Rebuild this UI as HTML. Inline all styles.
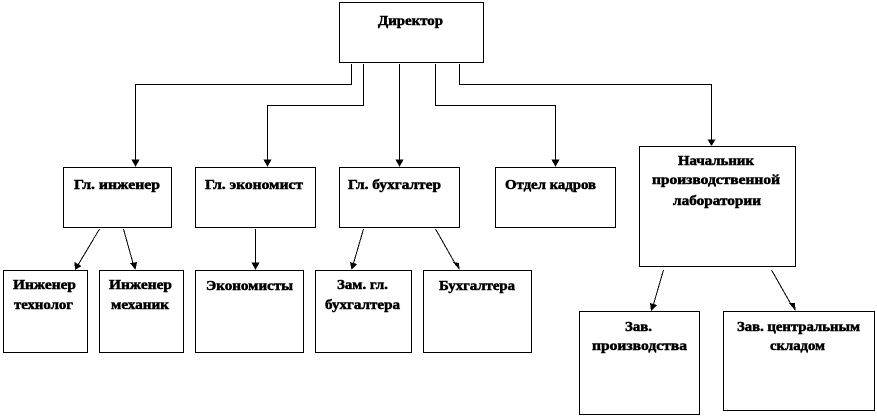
<!DOCTYPE html>
<html lang="ru">
<head>
<meta charset="utf-8">
<title>Диаграмма</title>
<style>
html,body{margin:0;padding:0;background:#fff;width:877px;height:417px;overflow:hidden}
svg{display:block}
rect{fill:#fff;stroke:#000;stroke-width:1;shape-rendering:crispEdges}
.l{fill:none;stroke:#000;stroke-width:1;shape-rendering:crispEdges}
.h{fill:#000;stroke:none;shape-rendering:crispEdges}
text{font-family:"Liberation Serif",serif;font-weight:bold;font-size:13.3px;fill:#000;stroke:#000;stroke-width:.5}
</style>
</head>
<body>
<svg width="877" height="417" viewBox="0 0 877 417" xmlns="http://www.w3.org/2000/svg">
<rect x="339.5" y="2.5" width="144" height="60"/>
<rect x="63.5" y="167.5" width="108" height="60"/>
<rect x="195.5" y="167.5" width="120" height="60"/>
<rect x="339.5" y="167.5" width="120" height="60"/>
<rect x="495.5" y="167.5" width="120" height="60"/>
<rect x="639.5" y="146.5" width="156" height="120"/>
<rect x="3.5" y="270.5" width="84" height="82"/>
<rect x="99.5" y="270.5" width="84" height="82"/>
<rect x="195.5" y="270.5" width="108" height="82"/>
<rect x="315.5" y="270.5" width="96" height="82"/>
<rect x="423.5" y="270.5" width="108" height="82"/>
<rect x="579.5" y="311.5" width="120" height="103"/>
<rect x="723.5" y="311.5" width="151" height="99"/>

<path class="l" d="M351.5 64V84.5H135.5V162"/>
<path class="l" d="M363.5 64V105.5H267.5V162"/>
<path class="l" d="M399.5 64V162"/>
<path class="l" d="M435.5 64V105.5H555.5V162"/>
<path class="l" d="M459.5 64V84.5H711.5V141"/>
<path class="l" d="M99.5 229L78 265"/>
<path class="l" d="M123.5 229L133.5 265"/>
<path class="l" d="M255.5 229V265"/>
<path class="l" d="M363.5 229L353 265"/>
<path class="l" d="M435.5 229L456 265"/>
<path class="l" d="M663.5 270L653 306"/>
<path class="l" d="M771.5 270L792 306"/>

<polygon class="h" points="131.5,159.5 139.5,159.5 135.5,167"/>
<polygon class="h" points="263.5,159.5 271.5,159.5 267.5,167"/>
<polygon class="h" points="395.5,159.5 403.5,159.5 399.5,167"/>
<polygon class="h" points="551.5,159.5 559.5,159.5 555.5,167"/>
<polygon class="h" points="707.5,139.5 715.5,139.5 711.5,146"/>
<polygon class="h" points="74.5,262 81.5,266 75,270"/>
<polygon class="h" points="130,263 137,262 135.5,270"/>
<polygon class="h" points="251.5,262.5 259.5,262.5 255.5,270"/>
<polygon class="h" points="350,262 357,264 351.5,270"/>
<polygon class="h" points="453,262 459,263 459.5,270"/>
<polygon class="h" points="650,303 657,305 651,311"/>
<polygon class="h" points="789,303 795,303 795.5,311"/>

<text x="378" y="25" textLength="65" lengthAdjust="spacingAndGlyphs">Директор</text>
<text x="74" y="189" textLength="86" lengthAdjust="spacingAndGlyphs">Гл. инженер</text>
<text x="205" y="189" textLength="98" lengthAdjust="spacingAndGlyphs">Гл. экономист</text>
<text x="348" y="189" textLength="93" lengthAdjust="spacingAndGlyphs">Гл. бухгалтер</text>
<text x="505" y="189" textLength="91" lengthAdjust="spacingAndGlyphs">Отдел кадров</text>
<text x="678" y="165" textLength="76" lengthAdjust="spacingAndGlyphs">Начальник</text>
<text x="652" y="184" textLength="128" lengthAdjust="spacingAndGlyphs">производственной</text>
<text x="673" y="205" textLength="88" lengthAdjust="spacingAndGlyphs">лаборатории</text>
<text x="13" y="289" textLength="63" lengthAdjust="spacingAndGlyphs">Инженер</text>
<text x="14" y="309" textLength="59" lengthAdjust="spacingAndGlyphs">технолог</text>
<text x="109" y="289" textLength="63" lengthAdjust="spacingAndGlyphs">Инженер</text>
<text x="111" y="309" textLength="58" lengthAdjust="spacingAndGlyphs">механик</text>
<text x="206" y="290" textLength="87" lengthAdjust="spacingAndGlyphs">Экономисты</text>
<text x="337" y="289" textLength="51" lengthAdjust="spacingAndGlyphs">Зам. гл.</text>
<text x="325" y="309" textLength="75" lengthAdjust="spacingAndGlyphs">бухгалтера</text>
<text x="439" y="290" textLength="76" lengthAdjust="spacingAndGlyphs">Бухгалтера</text>
<text x="625" y="331" textLength="27" lengthAdjust="spacingAndGlyphs">Зав.</text>
<text x="592" y="350" textLength="95" lengthAdjust="spacingAndGlyphs">производства</text>
<text x="737" y="331" textLength="123" lengthAdjust="spacingAndGlyphs">Зав. центральным</text>
<text x="770" y="350" textLength="55" lengthAdjust="spacingAndGlyphs">складом</text>
</svg>
</body>
</html>
